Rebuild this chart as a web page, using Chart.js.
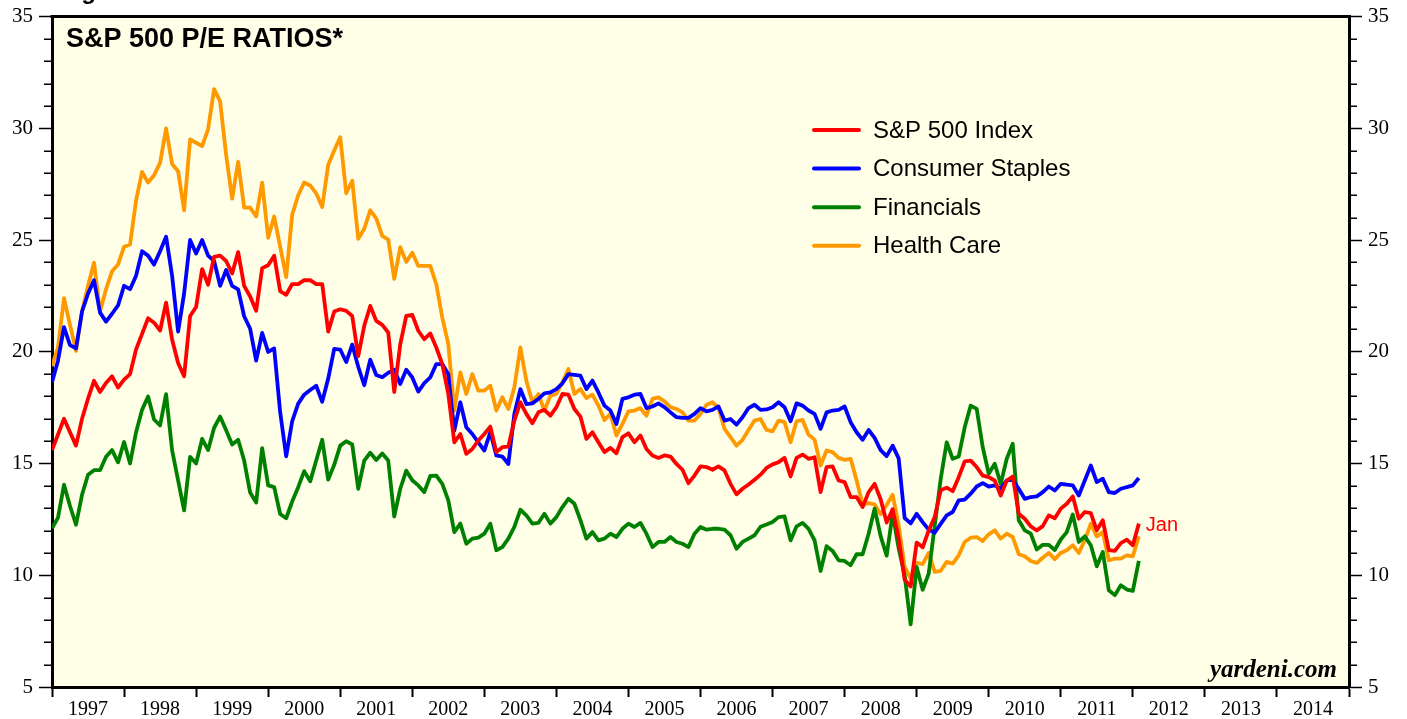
<!DOCTYPE html>
<html><head><meta charset="utf-8">
<script src="https://cdn.jsdelivr.net/npm/chart.js@4.4.1/dist/chart.umd.min.js"></script>
<style>html,body{margin:0;padding:0;background:#fff;}#wrap{width:1407px;height:719px;position:relative;}</style>
</head><body><div id="wrap"><canvas id="c" width="1407" height="719"></canvas></div>
<script>
// Monthly P/E ratios, Dec 1996 .. Jan 2012 (month-end)
const yearLabels = ['1997','1998','1999','2000','2001','2002','2003','2004','2005','2006','2007','2008','2009','2010','2011','2012','2013','2014'];
const seriesNames = ['S&P 500 Index','Consumer Staples','Financials','Health Care'];
const seriesColors = ['#FF0000','#0000FF','#008000','#FF9900'];
const sp500 = [15.6,16.3,17.0,16.4,15.8,17.0,17.9,18.7,18.2,18.6,18.9,18.4,18.75,19.0,20.1,20.8,21.5,21.3,20.95,22.2,20.55,19.5,18.9,21.6,22.0,23.7,23.0,24.25,24.3,24.06,
23.5,24.46,22.95,22.47,21.83,23.74,23.87,24.3,22.71,22.55,23.03,23.03,23.2,23.2,23.03,23.03,20.9,21.8,21.9,21.83,21.6,19.8,21.16,22.05,21.38,21.2,20.86,18.2,20.34,21.6,
21.65,20.94,20.56,20.82,20.19,19.45,18.11,15.95,16.32,15.43,15.65,16.03,16.32,16.65,15.51,15.73,15.76,16.92,17.74,17.22,16.8,17.29,17.4,17.14,17.52,18.11,18.08,17.44,17.1,16.1,
16.4,15.95,15.51,15.7,15.46,16.18,16.35,15.95,16.25,15.65,15.36,15.25,15.36,15.31,14.98,14.72,14.12,14.46,14.87,14.84,14.72,14.87,14.69,14.09,13.62,13.87,14.06,14.27,14.5,14.8,
14.96,15.06,15.25,14.42,15.25,15.4,15.21,15.28,13.72,14.84,14.87,14.24,14.17,13.5,13.5,13.05,13.72,14.09,13.4,12.36,12.95,11.65,9.8,9.5,11.46,11.25,12.0,12.6,13.8,13.92,
13.76,14.39,15.09,15.13,14.84,14.46,14.39,14.24,13.57,14.24,14.42,12.75,12.53,12.19,12.01,12.2,12.68,12.55,12.98,13.2,13.53,12.53,12.83,12.78,12.01,12.46,11.12,11.09,11.44,11.59,
11.34,12.31];
const staples = [18.64,19.6,21.1,20.3,20.15,21.8,22.6,23.2,21.75,21.35,21.7,22.07,22.95,22.8,23.4,24.5,24.3,23.9,24.5,25.15,23.4,20.9,22.6,25.0,24.4,25.0,24.3,24.06,22.95,23.66,
22.95,22.79,21.59,21.03,19.6,20.84,19.99,20.15,17.29,15.32,16.89,17.68,18.08,18.29,18.48,17.76,18.8,20.13,20.1,19.54,20.32,19.33,18.5,19.65,18.96,18.86,19.06,19.19,18.56,19.2,
18.85,18.22,18.6,18.85,19.45,19.45,19.0,16.47,17.74,16.62,16.32,15.95,15.58,16.4,15.36,15.31,14.98,17.22,18.33,17.66,17.69,17.89,18.14,18.18,18.33,18.59,19.0,18.97,18.93,18.33,
18.71,18.18,17.59,17.37,16.77,17.89,17.96,18.08,18.11,17.48,17.55,17.69,17.52,17.29,17.07,17.04,17.04,17.22,17.48,17.33,17.4,17.55,16.92,16.99,16.74,17.07,17.48,17.63,17.4,17.42,
17.52,17.74,17.52,16.89,17.69,17.59,17.37,17.22,16.55,17.29,17.37,17.4,17.55,16.85,16.4,16.06,16.5,16.15,15.6,15.33,15.8,15.23,12.56,12.32,12.75,12.38,12.04,11.9,12.3,12.68,
12.83,13.35,13.38,13.65,13.97,14.12,13.97,14.02,13.87,14.24,14.27,13.87,13.42,13.5,13.53,13.72,13.97,13.79,14.09,14.05,14.02,13.57,14.24,14.91,14.17,14.32,13.72,13.68,13.87,13.94,
14.02,14.35];
const financials = [12.1,12.58,14.05,13.1,12.26,13.6,14.5,14.7,14.7,15.3,15.6,15.05,15.96,15.0,16.4,17.4,18.0,16.97,16.7,18.1,15.6,14.25,12.9,15.3,15.0,16.1,15.6,16.6,17.1,16.49,
15.85,16.06,15.13,13.7,13.25,15.69,14.02,13.94,12.74,12.55,13.3,13.94,14.66,14.2,15.13,16.06,14.28,14.94,15.8,16.0,15.85,13.87,15.13,15.48,15.16,15.45,15.13,12.63,13.87,14.68,
14.25,14.02,13.72,14.44,14.46,14.09,13.35,11.93,12.31,11.41,11.64,11.68,11.86,12.31,11.12,11.26,11.64,12.16,12.93,12.68,12.31,12.34,12.75,12.31,12.6,13.05,13.42,13.2,12.47,11.64,
11.93,11.56,11.64,11.86,11.71,12.08,12.31,12.16,12.34,11.86,11.26,11.49,11.49,11.71,11.49,11.41,11.26,11.86,12.16,12.04,12.08,12.08,12.04,11.79,11.19,11.49,11.64,11.79,12.17,12.27,
12.38,12.6,12.63,11.56,12.19,12.34,12.08,11.56,10.19,11.3,11.09,10.67,10.64,10.45,10.94,10.94,11.86,12.98,11.75,10.87,12.76,11.2,10.0,7.8,10.37,9.35,10.07,12.2,14.3,15.95,
15.21,15.31,16.62,17.59,17.44,15.73,14.54,14.99,14.09,15.21,15.88,12.46,12.01,11.86,11.15,11.36,11.36,11.13,11.6,11.93,12.72,11.49,11.74,11.34,10.4,11.04,9.33,9.11,9.55,9.36,
9.3,10.64];
const healthCare = [19.35,20.2,22.4,21.2,20.04,21.8,22.95,23.98,21.8,22.8,23.6,23.9,24.7,24.8,26.77,28.05,27.57,27.9,28.45,29.99,28.4,28.08,26.33,29.5,29.35,29.2,29.96,31.75,31.2,28.8,
26.85,28.5,26.45,26.45,26.05,27.57,25.1,26.05,24.7,23.34,26.13,27.0,27.57,27.44,27.09,26.48,28.37,29.0,29.6,27.09,27.65,25.05,25.5,26.33,25.97,25.18,25.02,23.26,24.68,24.02,
24.43,23.84,23.84,23.84,23.02,21.53,20.34,17.37,19.08,18.11,19.0,18.26,18.26,18.48,17.37,17.96,17.44,18.41,20.19,18.7,17.74,18.11,17.37,18.03,18.11,18.63,19.23,18.11,18.33,17.93,
18.08,17.59,16.95,17.22,16.25,16.77,17.33,17.37,17.48,17.14,17.89,17.96,17.78,17.52,17.44,17.29,16.92,16.92,17.22,17.63,17.74,17.48,16.55,16.18,15.8,16.06,16.5,16.92,16.99,16.5,
16.44,16.92,16.85,15.95,16.89,16.95,16.29,16.06,14.91,15.58,15.51,15.25,15.16,15.21,14.24,13.17,13.23,13.17,12.73,13.14,13.6,12.24,10.37,9.85,10.56,10.5,11.0,10.15,10.2,10.6,
10.52,10.89,11.49,11.68,11.71,11.53,11.83,12.01,11.64,11.86,11.71,10.94,10.85,10.64,10.55,10.78,11.0,10.72,11.0,11.12,11.34,11.0,11.56,12.31,11.74,11.93,10.67,10.74,10.74,10.89,
10.85,11.74];
const lastLabel = 'Jan';
const titleText = 'S&P 500 P/E RATIOS*';
const headerText = 'Figure';
const sourceText = 'yardeni.com';
const monthsPerYear = 12;

const allSeries = [sp500, staples, financials, healthCare];
const toPoints = arr => arr.map((v, i) => ({x: i, y: v}));

const SERIF = '"Liberation Serif","Times New Roman",serif';
const SANS = '"Liberation Sans",Arial,Helvetica,sans-serif';
const PLOT_BG = '#FFFEE6';

const decorPlugin = {
  id: 'decor',
  beforeDraw(chart) {
    const {ctx, chartArea: a} = chart;
    ctx.save();
    ctx.fillStyle = PLOT_BG;
    ctx.fillRect(a.left, a.top, a.right - a.left, a.bottom - a.top);
    // clipped header text above the frame
    ctx.fillStyle = '#000';
    ctx.font = 'bold 24px ' + SANS;
    ctx.textAlign = 'left';
    ctx.textBaseline = 'alphabetic';
    ctx.fillText(headerText, 60, -1);
    ctx.restore();
  },
  afterDraw(chart) {
    const {ctx, chartArea: a} = chart;
    ctx.save();
    // top frame line
    ctx.strokeStyle = '#000';
    ctx.lineWidth = 3;
    ctx.beginPath(); ctx.moveTo(a.left - 1.5, a.top); ctx.lineTo(a.right + 1.5, a.top); ctx.stroke();
    // minor y ticks on both axes
    ctx.lineWidth = 1.5;
    const ys = chart.scales.y;
    for (let v = ys.min; v <= ys.max; v++) {
      if (v % 5 === 0) continue;
      const p = Math.round(ys.getPixelForValue(v)) + 0.25;
      ctx.beginPath(); ctx.moveTo(a.left - 8, p); ctx.lineTo(a.left, p); ctx.stroke();
      ctx.beginPath(); ctx.moveTo(a.right, p); ctx.lineTo(a.right + 8, p); ctx.stroke();
    }
    // title
    ctx.fillStyle = '#000';
    ctx.font = 'bold 27px ' + SANS;
    ctx.textBaseline = 'alphabetic';
    ctx.textAlign = 'left';
    ctx.fillText(titleText, a.left + 14, a.top + 30);
    // source
    ctx.font = 'italic bold 25px ' + SERIF;
    ctx.textAlign = 'right';
    ctx.fillText(sourceText, a.right - 12, a.bottom - 10);
    // legend
    ctx.textAlign = 'left';
    ctx.textBaseline = 'middle';
    ctx.font = '24px ' + SANS;
    chart.data.datasets.forEach((ds, i) => {
      const y = 130 + i * 38.6;
      ctx.strokeStyle = ds.borderColor;
      ctx.lineWidth = 4;
      ctx.lineCap = 'round';
      ctx.beginPath(); ctx.moveTo(814, y); ctx.lineTo(859, y); ctx.stroke();
      ctx.fillStyle = '#000';
      ctx.fillText(ds.label, 873, y + 1);
    });
    // last-point label
    const xs = chart.scales.x;
    const lastIdx = sp500.length - 1;
    ctx.fillStyle = seriesColors[0];
    ctx.font = '20px ' + SANS;
    ctx.fillText(lastLabel, xs.getPixelForValue(lastIdx) + 7, ys.getPixelForValue(sp500[lastIdx]) + 2);
    ctx.restore();
  }
};

const yAxis = (pos, w) => ({
  type: 'linear', position: pos, min: 5, max: 35,
  afterFit: s => { s.width = w; },
  border: {display: true, color: '#000', width: 3},
  grid: {drawOnChartArea: false, drawTicks: true, tickLength: 13, tickWidth: 1.5,
         tickColor: c => (c.tick && c.tick.value % 5 === 0) ? '#000' : 'rgba(0,0,0,0)'},
  ticks: {stepSize: 1, autoSkip: false, padding: 6, color: '#000',
          font: {family: SERIF, size: 21, lineHeight: 1},
          callback: v => (v % 5 === 0 ? String(v) : '')}
});

new Chart(document.getElementById('c'), {
  type: 'line',
  data: {
    datasets: allSeries.map((arr, i) => ({
      label: seriesNames[i], data: toPoints(arr), borderColor: seriesColors[i],
      backgroundColor: seriesColors[i], borderWidth: 3.8, pointRadius: 0,
      tension: 0, borderJoinStyle: 'round', yAxisID: 'y'
    }))
  },
  options: {
    responsive: false, animation: false, devicePixelRatio: 1,
    layout: {padding: {top: 15, left: 0, right: 0, bottom: 0}},
    plugins: {legend: {display: false}, tooltip: {enabled: false}, title: {display: false}},
    scales: {
      x: {
        type: 'linear', position: 'bottom', min: 0, max: yearLabels.length * monthsPerYear,
        afterFit: s => { s.height = 32; },
        border: {display: true, color: '#000', width: 3},
        grid: {drawOnChartArea: false, drawTicks: true, tickLength: 10, tickWidth: 2,
               tickColor: c => (c.tick && c.tick.value % monthsPerYear === 0) ? '#000' : 'rgba(0,0,0,0)'},
        ticks: {stepSize: monthsPerYear / 2, autoSkip: false, maxRotation: 0, minRotation: 0, padding: 1,
                color: '#000', font: {family: SERIF, size: 20},
                callback: v => (v % monthsPerYear === monthsPerYear / 2 ? yearLabels[(v - monthsPerYear / 2) / monthsPerYear] : '')}
      },
      y: yAxis('left', 52),
      y2: yAxis('right', 58)
    }
  },
  plugins: [decorPlugin]
});
</script></body></html>
